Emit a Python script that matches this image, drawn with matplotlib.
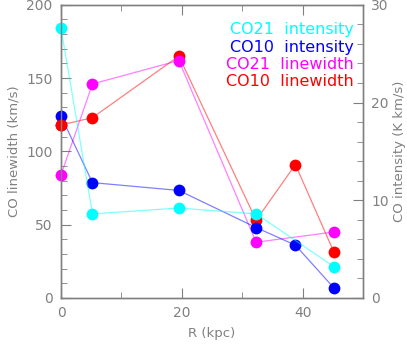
import matplotlib
matplotlib.use("Agg")
import matplotlib.pyplot as plt
from matplotlib.ticker import MultipleLocator

# Radius (kpc) for each series
r_co21_int = [0.0, 5.2, 19.5, 32.3, 45.2]
co21_int = [27.6, 8.6, 9.2, 8.6, 3.2]          # K km/s

r_co10_int = [0.0, 5.2, 19.5, 32.3, 38.8, 45.2]
co10_int = [18.6, 11.8, 11.0, 7.2, 5.4, 1.0]   # K km/s

r_co21_lw = [0.0, 5.2, 19.5, 32.3, 45.2]
co21_lw = [84, 146, 162, 38, 45]               # km/s

r_co10_lw = [0.0, 5.2, 19.5, 32.3, 38.8, 45.2]
co10_lw = [118, 123, 165, 53, 91, 31]          # km/s

legend_labels = ["CO21  intensity", "CO10  intensity", "CO21  linewidth", "CO10  linewidth"]
legend_colors = ["#00ffff", "#0000ff", "#ff00ff", "#ff0000"]

GRAY = "#808080"
MS = 8.5

fig = plt.figure(figsize=(4.07, 3.44), dpi=100)
ax = fig.add_axes([0.150, 0.134, 0.742, 0.852])
ax2 = ax.twinx()

ax.set_xlim(0, 50)
ax.set_ylim(0, 200)
ax2.set_ylim(0, 30)


def series(axis, r, v, color, z):
    axis.plot(r, v, color=color, lw=0.9, alpha=0.5, zorder=z)
    axis.plot(r, v, "o", color=color, ms=MS, mec="none", zorder=z + 0.5, clip_on=False)


# linewidths on left axis, intensities on right axis (same pixel space)
series(ax, r_co10_lw, co10_lw, "#ff0000", 2)
series(ax, r_co21_lw, co21_lw, "#ff00ff", 3)
# intensities rescaled to left-axis units so zorder works across series
scale = 200 / 30
series(ax, r_co10_int, [v * scale for v in co10_int], "#0000ff", 4)
series(ax, r_co21_int, [v * scale for v in co21_int], "#00ffff", 5)
# at R=0 the red point sits above the blue one
ax.plot(r_co10_lw[:1], co10_lw[:1], "o", color="#ff0000", ms=MS, mec="none",
        zorder=6, clip_on=False)

for a in (ax, ax2):
    for s in a.spines.values():
        s.set_color(GRAY)
        s.set_linewidth(1.0)

ax.xaxis.set_major_locator(MultipleLocator(20))
ax.xaxis.set_minor_locator(MultipleLocator(10))
ax.yaxis.set_major_locator(MultipleLocator(50))
ax.yaxis.set_minor_locator(MultipleLocator(10))
ax2.yaxis.set_major_locator(MultipleLocator(10))
ax2.yaxis.set_minor_locator(MultipleLocator(2))

ax.tick_params(axis="both", which="both", direction="in", colors=GRAY,
               labelcolor=GRAY, labelsize=10, top=True, right=False, pad=6)
ax.tick_params(which="major", length=7)
ax.tick_params(which="minor", length=4)
ax2.tick_params(axis="y", which="both", direction="in", colors=GRAY,
                labelcolor=GRAY, labelsize=10, pad=6)
ax2.tick_params(which="major", length=7)
ax2.tick_params(which="minor", length=4)

ax.set_xlabel("R (kpc)", color=GRAY, fontsize=9.5, labelpad=5)
ax.set_ylabel("CO linewidth (km/s)", color=GRAY, fontsize=9.5, labelpad=4)
ax2.set_ylabel("CO intensity (K km/s)", color=GRAY, fontsize=9.5, labelpad=3)

for i, (lab, col) in enumerate(zip(legend_labels, legend_colors)):
    ax.text(0.97, 0.915 - i * 0.059, lab, color=col, fontsize=11.5,
            ha="right", va="center", transform=ax.transAxes, zorder=10)

fig.savefig("out.png", dpi=100)
